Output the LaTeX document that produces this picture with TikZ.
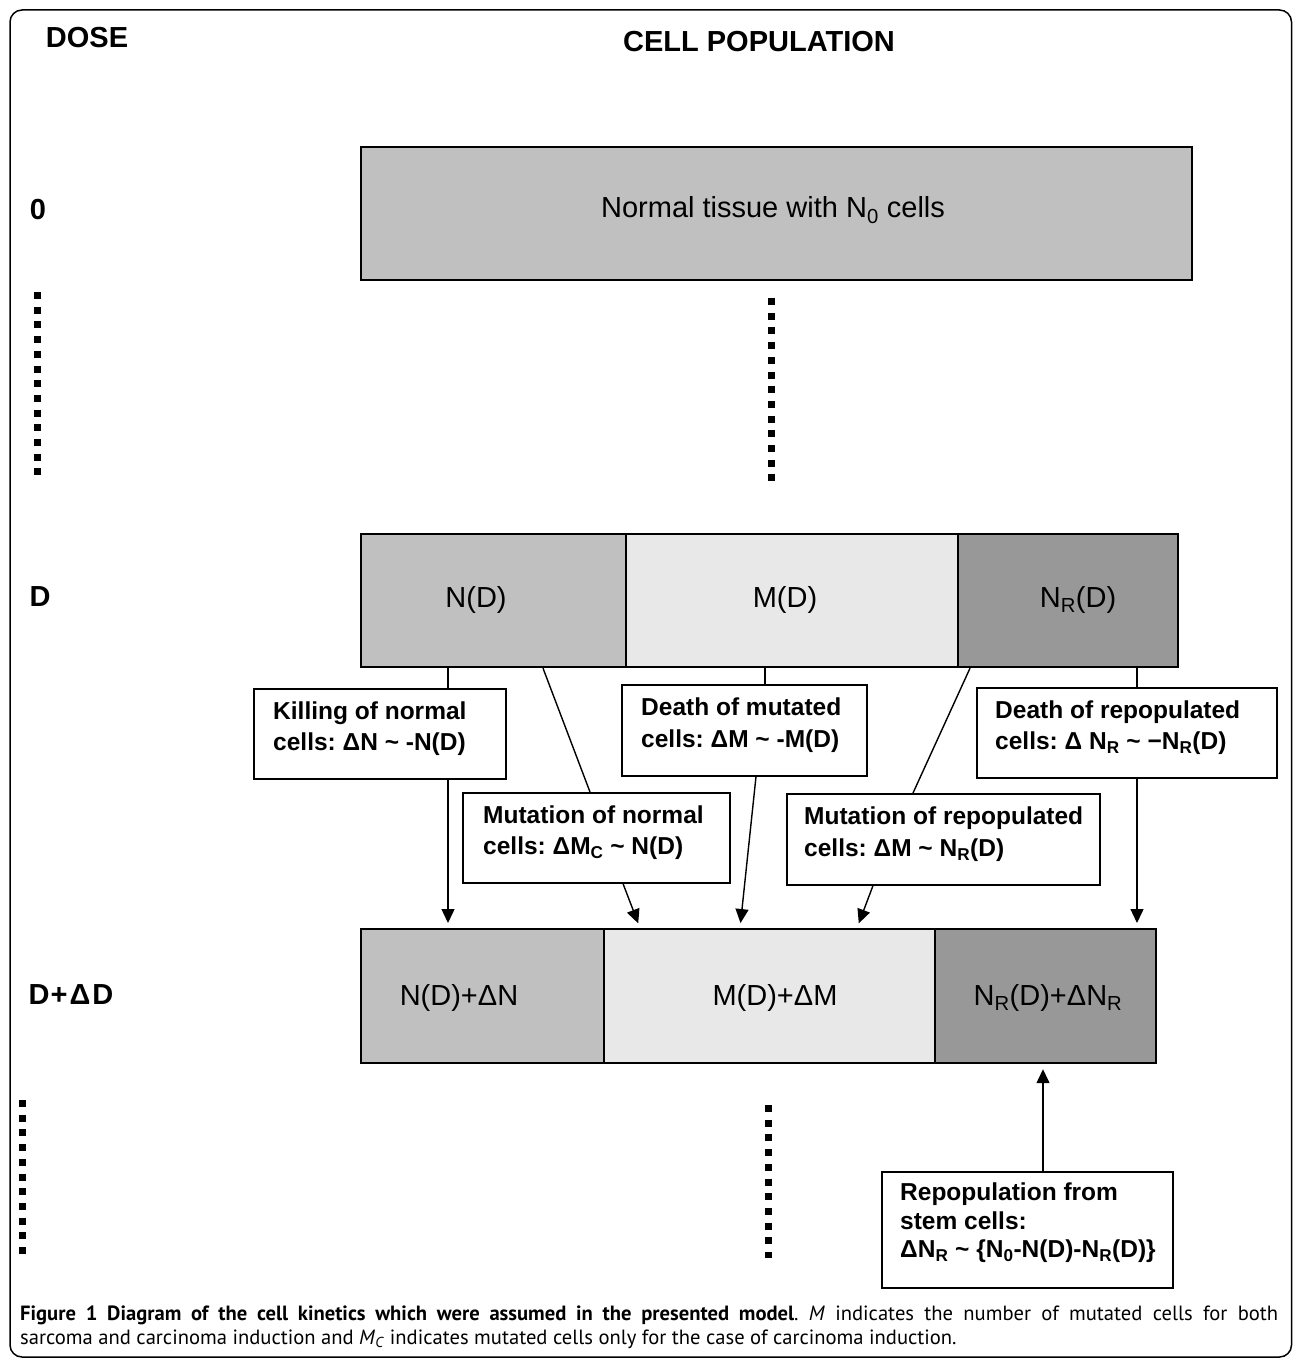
\documentclass[tikz,border=0pt]{standalone}
\usepackage{fontspec}
\setmainfont{Liberation Sans}
\newfontfamily\capfont{PT Sans}
\usetikzlibrary{arrows.meta}
\definecolor{gA}{RGB}{192,192,192}
\definecolor{gB}{RGB}{232,232,232}
\definecolor{gC}{RGB}{152,152,152}
\tikzset{
  cell/.style={draw, line width=2.2pt, inner sep=0pt, anchor=north west},
  anno/.style={draw, line width=1.6pt, fill=white, inner sep=0pt, anchor=north west},
  annotext/.style={font=\fontsize{24.5}{31.5}\selectfont\bfseries, align=left, anchor=west, inner sep=0pt},
  rowtext/.style={font=\fontsize{29}{34}\selectfont, inner sep=0pt},
  doselab/.style={font=\fontsize{29}{34}\selectfont\bfseries, inner sep=0pt},
  conn/.style={line width=1.4pt},
  arr/.style={conn, -{Triangle[width=13pt,length=14pt]}, shorten >=5pt},
  dotline/.style={line width=7pt, dash pattern=on 7pt off 7.7pt},
  capstyle/.style={font=\capfont\fontsize{20.6}{24}\selectfont, inner sep=0pt, anchor=base west}
}
\begin{document}
\frenchspacing
\begin{tikzpicture}[x=1pt, y=-1pt]
\useasboundingbox (0,0) rectangle (1293,1359);
% frame
\draw[line width=1.5pt, rounded corners=12pt] (10,10) rectangle (1291.5,1357);
% headings
\node[doselab] (dose) at (87,38) {DOSE};
\node[doselab] (cellpop) at (759,42) {CELL POPULATION};
\node[doselab] (d0) at (38,210) {0};
\node[doselab] (dD) at (40,597) {D};
\node[doselab] (dDD) at (71,995) {D\kern1pt+\kern2pt Δ\kern2pt D};
% dotted lines
\draw[dotline] (37,292) -- (37,477);
\draw[dotline] (771,298) -- (771,485);
\draw[dotline] (22,1100) -- (22,1254);
\draw[dotline] (768,1105) -- (768,1258);
% top box
\node[cell, fill=gA, minimum width=831pt, minimum height=133pt] (top) at (360,146) {};
\node[rowtext] (topT) at (773,210) {Normal tissue with N\textsubscript{0} cells};
% row D
\node[cell, fill=gA, minimum width=265pt, minimum height=133pt] (nD) at (360,533) {};
\node[cell, fill=gB, minimum width=332pt, minimum height=133pt] (mD) at (625,533) {};
\node[cell, fill=gC, minimum width=220pt, minimum height=133pt] (nrD) at (957,533) {};
\node[rowtext] (nDT) at (476,600) {N(D)};
\node[rowtext] (mDT) at (785,600) {M(D)};
\node[rowtext] (nrDT) at (1078,600) {N\textsubscript{R}(D)};
% row D+dD
\node[cell, fill=gA, minimum width=243pt, minimum height=134pt] (nDD) at (360,928) {};
\node[cell, fill=gB, minimum width=331pt, minimum height=134pt] (mDD) at (603,928) {};
\node[cell, fill=gC, minimum width=221pt, minimum height=134pt] (nrDD) at (934,928) {};
\node[rowtext] (nDDT) at (459,998) {N(D)+ΔN};
\node[rowtext] (mDDT) at (775,998) {M(D)+ΔM};
\node[rowtext] (nrDDT) at (1048,998) {N\textsubscript{R}(D)+ΔN\textsubscript{R}};
% annotation boxes
\node[anno, minimum width=252pt, minimum height=90pt] (kill) at (253,688) {};
\node[annotext] (killT) at ([xshift=20pt,yshift=5pt]kill.west) {Killing of normal\\cells: ΔN \textasciitilde{} -N(D)};
\node[anno, minimum width=267pt, minimum height=90pt] (mutn) at (462,792) {};
\node[annotext] (mutnT) at ([xshift=21pt,yshift=5pt]mutn.west) {Mutation of normal\\cells: ΔM\textsubscript{C} \textasciitilde{} N(D)};
\node[anno, minimum width=245pt, minimum height=91pt] (deathm) at (621,684) {};
\node[annotext] (deathmT) at ([xshift=20pt,yshift=5pt]deathm.west) {Death of mutated\\cells: ΔM \textasciitilde{} -M(D)};
\node[anno, minimum width=313pt, minimum height=91pt] (mutr) at (786,793) {};
\node[annotext] (mutrT) at ([xshift=18pt,yshift=5pt]mutr.west) {Mutation of repopulated\\cells: ΔM \textasciitilde{} N\textsubscript{R}(D)};
\node[anno, minimum width=300pt, minimum height=90pt] (deathr) at (976,687) {};
\node[annotext] (deathrT) at ([xshift=19pt,yshift=5pt]deathr.west) {Death of repopulated\\cells: Δ N\textsubscript{R} \textasciitilde{} −N\textsubscript{R}(D)};
\node[anno, minimum width=291pt, minimum height=116pt] (repop) at (881,1171) {};
\node[annotext, font=\fontsize{24.5}{28.5}\selectfont\bfseries] (repopT) at ([xshift=19pt,yshift=7pt]repop.west) {Repopulation from\\stem cells:\\ΔN\textsubscript{R} \textasciitilde{} \{N\textsubscript{0}-N(D)-N\textsubscript{R}(D)\}};
% x positions for connectors
\coordinate (x448) at (448,0);
\coordinate (x543) at (543,0);
\coordinate (x590) at (590,0);
\coordinate (x623) at (623,0);
\coordinate (x640) at (640,0);
\coordinate (x765) at (765,0);
\coordinate (x756) at (756,0);
\coordinate (x740) at (740,0);
\coordinate (x970) at (970,0);
\coordinate (x913) at (913,0);
\coordinate (x873) at (873,0);
\coordinate (x857) at (857,0);
\coordinate (x1137) at (1137,0);
\coordinate (x1043) at (1043,0);
% connectors
\draw[conn] (x448 |- nD.south) -- (x448 |- kill.north);
\draw[arr] (x448 |- kill.south) -- (x448 |- nDD.north);
\draw[conn] (x543 |- nD.south) -- (x590 |- mutn.north);
\draw[arr] (x623 |- mutn.south) -- (x640 |- mDD.north);
\draw[conn] (x765 |- mD.south) -- (x765 |- deathm.north);
\draw[arr] (x756 |- deathm.south) -- (x740 |- mDD.north);
\draw[conn] (x970 |- nrD.south) -- (x913 |- mutr.north);
\draw[arr] (x873 |- mutr.south) -- (x857 |- mDD.north);
\draw[conn] (x1137 |- nrD.south) -- (x1137 |- deathr.north);
\draw[arr] (x1137 |- deathr.south) -- (x1137 |- nrDD.north);
\draw[arr] (x1043 |- repop.north) -- (x1043 |- nrDD.south);
% caption
\node[capstyle] (cap1) at (20,1320) {\makebox[1258pt][s]{\textbf{Figure 1 Diagram of the cell kinetics which were assumed in the presented model}. \textit{M} indicates the number of mutated cells for both}};
\node[capstyle] (cap2) at (20,1344) {sarcoma and carcinoma induction and \textit{M}\textsubscript{\textit{C}} indicates mutated cells only for the case of carcinoma induction.};
\end{tikzpicture}
\end{document}
